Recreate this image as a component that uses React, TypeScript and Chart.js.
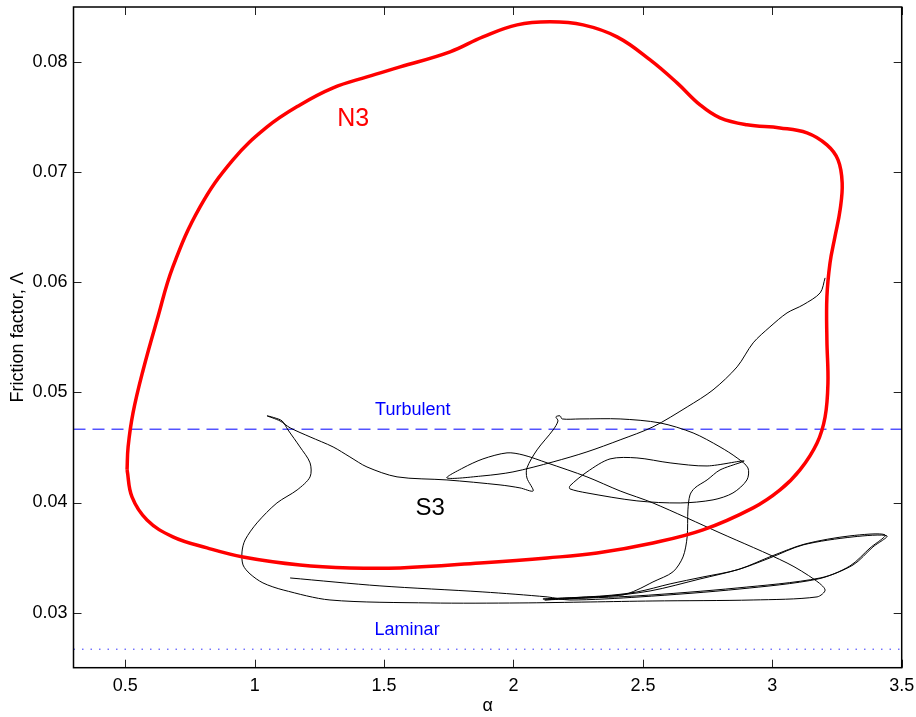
import React, { useEffect, useRef } from "react";
import { Chart, registerables } from "chart.js";

Chart.register(...registerables);

// Axis limits and ticks
const X_MIN = 0.3;
const X_MAX = 3.5;
const Y_MIN = 0.025;
const Y_MAX = 0.085;
const xTickValues = [0.5, 1, 1.5, 2, 2.5, 3, 3.5];
const yTickValues = [0.03, 0.04, 0.05, 0.06, 0.07, 0.08];

// Reference levels
const turbulentLambda = 0.04666;
const laminarLambda = 0.02668;

// N3 closed curve (red)
const n3Alpha = [
  0.507, 0.511, 0.53, 0.569, 0.623, 0.684, 0.789, 0.916, 1.048, 1.175, 1.303, 1.434, 1.562,
  1.755, 1.882, 2.014, 2.141, 2.269, 2.4, 2.528, 2.632, 2.721, 2.798, 2.902, 3.03, 3.134,
  3.211, 3.254, 3.27, 3.262, 3.242, 3.223, 3.211, 3.211, 3.215, 3.204, 3.173, 3.107, 3.03,
  2.926, 2.732, 2.539, 2.323, 2.13, 1.871, 1.562, 1.368, 1.175, 0.955, 0.816, 0.684, 0.584,
  0.526, 0.507,
];
const n3Lambda = [
  0.04296, 0.04505, 0.04814, 0.05204, 0.05659, 0.0614, 0.06685, 0.07112, 0.07411, 0.07611,
  0.07766, 0.07866, 0.07956, 0.08093, 0.08229, 0.08338, 0.08365, 0.08338, 0.08229, 0.0802,
  0.07811, 0.07611, 0.07493, 0.0743, 0.07402, 0.07357, 0.07248, 0.07112, 0.06903, 0.06658,
  0.06412, 0.06176, 0.05867, 0.05477, 0.05086, 0.04777, 0.04541, 0.04296, 0.04114, 0.03951,
  0.03751, 0.03633, 0.03542, 0.03497, 0.03451, 0.03406, 0.03406, 0.03433, 0.03506, 0.03588,
  0.03688, 0.03842, 0.04051, 0.04296,
];

// S3 trajectory (black)
const s3Alpha = [
  3.204, 3.185, 3.119, 3.057, 2.991, 2.926, 2.864, 2.771, 2.671, 2.539, 2.412, 2.284, 2.153,
  1.998, 1.882, 1.743, 1.805, 1.882, 1.975, 2.037, 2.13, 2.284, 2.412, 2.539, 2.798, 3.057,
  3.165, 3.204, 3.173, 2.926, 2.539, 2.296, 2.025, 1.678, 1.291, 1.11, 1.032, 0.982, 0.955,
  0.951, 0.963, 1.009, 1.086, 1.164, 1.214, 1.214, 1.175, 1.129, 1.106, 1.079, 1.048, 1.098,
  1.137, 1.214, 1.303, 1.368, 1.434, 1.55, 1.743, 1.948, 2.025, 2.076, 2.052, 2.052, 2.091,
  2.153, 2.172, 2.164, 2.18, 2.188, 2.257, 2.412, 2.566, 2.694, 2.798, 2.864, 2.906, 2.902,
  2.848, 2.771, 2.644, 2.477, 2.284, 2.218, 2.218, 2.284, 2.373, 2.477, 2.605, 2.748, 2.891,
  2.798, 2.748, 2.701, 2.682, 2.674, 2.671, 2.655, 2.616, 2.539, 2.477, 2.423, 2.296, 2.114,
  2.346, 2.477, 2.605, 2.732, 2.864, 2.991, 3.119, 3.312, 3.443, 3.389, 3.312, 3.185, 2.864,
  2.477, 2.18, 2.122, 2.334, 2.528, 2.721, 2.875, 2.999, 3.127, 3.3, 3.436, 3.378, 3.3,
  3.177, 2.875, 2.489, 2.218, 2.13, 1.882, 1.484, 1.137,
];
const s3Lambda = [
  0.0604, 0.05904, 0.05795, 0.05722, 0.05595, 0.0545, 0.05232, 0.05023, 0.04868, 0.04687,
  0.04569, 0.0446, 0.04369, 0.04278, 0.04242, 0.04223, 0.04314, 0.04396, 0.04451, 0.04432,
  0.0436, 0.04233, 0.04105, 0.03996, 0.03724, 0.03451, 0.03297, 0.03206, 0.03143, 0.03115,
  0.03106, 0.03097, 0.03088, 0.03088, 0.03115, 0.03206, 0.0327, 0.03352, 0.03433, 0.03551,
  0.0366, 0.03815, 0.03996, 0.04114, 0.04233, 0.0436, 0.04505, 0.04659, 0.04741, 0.04768,
  0.04787, 0.04741, 0.04678, 0.04596, 0.04505, 0.04414, 0.04323, 0.04233, 0.04205, 0.0416,
  0.04133, 0.04105, 0.04223, 0.04314, 0.04478, 0.04659, 0.04741, 0.04778, 0.04787, 0.04759,
  0.04759, 0.04759, 0.04723, 0.04632, 0.04505, 0.04405, 0.04314, 0.04205, 0.04087, 0.04024,
  0.03996, 0.04015, 0.04087, 0.04124, 0.04151, 0.04278, 0.04396, 0.04405, 0.0436, 0.04332,
  0.04378, 0.04296, 0.04205, 0.04133, 0.04069, 0.03933, 0.03688, 0.03506, 0.0337, 0.03279,
  0.03206, 0.03161, 0.03143, 0.03124, 0.03152, 0.03188, 0.03261, 0.03324, 0.03388, 0.03497,
  0.03615, 0.03688, 0.03697, 0.03597, 0.03433, 0.03315, 0.03224, 0.03152, 0.03124, 0.03115,
  0.03143, 0.03197, 0.03306, 0.03397, 0.03515, 0.03624, 0.03697, 0.03706, 0.03588, 0.03424,
  0.03306, 0.03215, 0.03143, 0.03115, 0.03143, 0.03188, 0.03243, 0.03315,
];

// Text annotations
const annotationText = ["N3", "S3", "Turbulent", "Laminar"];
const annotationAlpha = [1.381, 1.678, 1.611, 1.589];
const annotationLambda = [0.07486, 0.03948, 0.04844, 0.02843];
const annotationColor = ["#ff0000", "#000000", "#0000ff", "#0000ff"];
const annotationSize = [25, 24, 18, 18];

const FONT = '"Liberation Sans", Arial, Helvetica, sans-serif';

const toPoints = (xs: number[], ys: number[]) => xs.map((x, i) => ({ x, y: ys[i] }));

const zeroPadding = (scale: any) => {
  scale.paddingTop = 0;
  scale.paddingBottom = 0;
  scale.paddingLeft = 0;
  scale.paddingRight = 0;
};

const framePlugin = {
  id: "matlabFrame",
  afterDatasetsDraw(chart: any) {
    const { ctx, chartArea, scales } = chart;
    const { left, right, top, bottom } = chartArea;
    const xs = scales.x;
    const ys = scales.y;
    ctx.save();
    // annotations
    ctx.textAlign = "center";
    ctx.textBaseline = "middle";
    annotationText.forEach((t, i) => {
      ctx.fillStyle = annotationColor[i];
      ctx.font = `${annotationSize[i]}px ${FONT}`;
      ctx.fillText(t, xs.getPixelForValue(annotationAlpha[i]), ys.getPixelForValue(annotationLambda[i]));
    });
    // ticks
    ctx.strokeStyle = "#222";
    ctx.lineWidth = 1;
    ctx.beginPath();
    const tl = 8;
    xTickValues.forEach((v) => {
      const px = Math.round(xs.getPixelForValue(v)) + 0.5;
      ctx.moveTo(px, bottom);
      ctx.lineTo(px, bottom - tl);
      ctx.moveTo(px, top);
      ctx.lineTo(px, top + tl);
    });
    yTickValues.forEach((v) => {
      const py = Math.round(ys.getPixelForValue(v)) + 0.5;
      ctx.moveTo(left, py);
      ctx.lineTo(left + tl, py);
      ctx.moveTo(right, py);
      ctx.lineTo(right - tl, py);
    });
    ctx.stroke();
    // frame
    ctx.strokeStyle = "#000";
    ctx.lineWidth = 1.5;
    ctx.strokeRect(left, top, right - left, bottom - top);
    ctx.restore();
  },
};

export default function App() {
  const canvasRef = useRef<HTMLCanvasElement | null>(null);

  useEffect(() => {
    const canvas = canvasRef.current;
    if (!canvas) return;
    const chart = new Chart(canvas, {
      type: "scatter",
      data: {
        datasets: [
          {
            label: "N3",
            data: toPoints(n3Alpha, n3Lambda),
            showLine: true,
            borderColor: "#ff0000",
            borderWidth: 3.5,
            pointRadius: 0,
            tension: 0.4,
            fill: false,
          },
          {
            label: "S3",
            data: toPoints(s3Alpha, s3Lambda),
            showLine: true,
            borderColor: "#000000",
            borderWidth: 1,
            pointRadius: 0,
            tension: 0.3,
            fill: false,
          },
          {
            label: "Turbulent",
            data: [
              { x: X_MIN, y: turbulentLambda },
              { x: X_MAX, y: turbulentLambda },
            ],
            showLine: true,
            borderColor: "#0000ff",
            borderWidth: 1,
            borderDash: [12, 7],
            pointRadius: 0,
          },
          {
            label: "Laminar",
            data: [
              { x: X_MIN, y: laminarLambda },
              { x: X_MAX, y: laminarLambda },
            ],
            showLine: true,
            borderColor: "#3333ff",
            borderWidth: 1,
            borderDash: [1.5, 7],
            pointRadius: 0,
          },
        ],
      },
      options: {
        responsive: false,
        animation: false,
        layout: { padding: { top: 7, right: 14.3, left: 0, bottom: 0 } },
        plugins: {
          legend: { display: false },
          tooltip: { enabled: false },
        },
        scales: {
          x: {
            type: "linear",
            min: X_MIN,
            max: X_MAX,
            grid: { display: false, drawTicks: false },
            border: { display: false },
            afterBuildTicks: (scale: any) => {
              scale.ticks = xTickValues.map((v) => ({ value: v }));
            },
            afterFit: (scale: any) => {
              scale.height = 49.3;
              zeroPadding(scale);
            },
            ticks: {
              padding: 8,
              color: "#000",
              maxRotation: 0,
              autoSkip: false,
              font: { family: FONT, size: 18 },
              callback: (v: any) => String(v),
            },
            title: {
              display: true,
              text: "α",
              color: "#000",
              font: { family: FONT, size: 18 },
              padding: { top: 0, bottom: 0 },
            },
          },
          y: {
            type: "linear",
            min: Y_MIN,
            max: Y_MAX,
            grid: { display: false, drawTicks: false },
            border: { display: false },
            afterBuildTicks: (scale: any) => {
              scale.ticks = yTickValues.map((v) => ({ value: v }));
            },
            afterFit: (scale: any) => {
              scale.width = 73.5;
              zeroPadding(scale);
            },
            ticks: {
              padding: 6,
              color: "#000",
              autoSkip: false,
              font: { family: FONT, size: 18 },
              callback: (v: any) => Number(v).toFixed(2),
            },
            title: {
              display: true,
              text: "Friction factor, Λ",
              color: "#000",
              font: { family: FONT, size: 18 },
              padding: { top: 7, bottom: 0 },
            },
          },
        },
      },
      plugins: [framePlugin],
    });
    return () => chart.destroy();
  }, []);

  return (
    <div style={{ position: "absolute", left: 0, top: 0, width: 916, height: 717, background: "#fff" }}>
      <canvas ref={canvasRef} width={916} height={717} style={{ width: 916, height: 717 }} />
    </div>
  );
}
